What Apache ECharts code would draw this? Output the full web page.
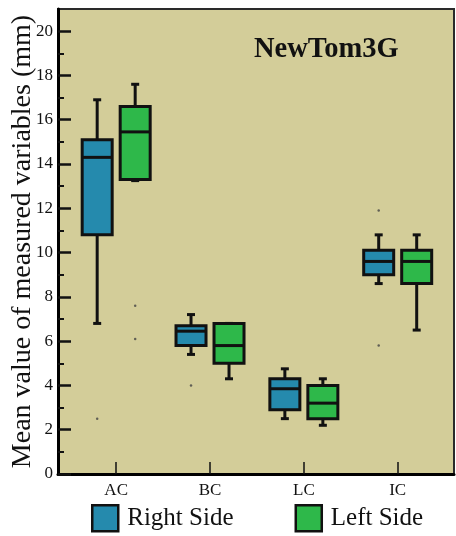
<!DOCTYPE html>
<html>
<head>
<meta charset="utf-8">
<title>NewTom3G</title>
<script src="https://cdn.jsdelivr.net/npm/echarts@6/dist/echarts.min.js"></script>
<style>
html, body { margin: 0; padding: 0; background: #fff; }
#chart { width: 456px; height: 536px; }
</style>
</head>
<body>
<div id="chart"></div>
<script>
var categories = ['AC', 'BC', 'LC', 'IC'];
// each row: [min, Q1, median, Q3, max]
var rightSide = [
	[6.8, 10.8, 14.3, 15.1, 16.9],
	[5.4, 5.8, 6.45, 6.7, 7.2],
	[2.5, 2.9, 3.85, 4.3, 4.75],
	[8.6, 9.0, 9.6, 10.1, 10.8]
];
var leftSide = [
	[13.25, 13.3, 15.45, 16.6, 17.6],
	[4.3, 5.0, 5.8, 6.8, 6.8],
	[2.2, 2.5, 3.2, 4.0, 4.3],
	[6.5, 8.6, 9.6, 10.1, 10.8]
];
// [category index, value]
var rightOutliers = [[0, 2.5], [1, 4.0], [3, 11.9], [3, 5.8]];
var leftOutliers = [[0, 7.6], [0, 6.1]];
var majorTicks = [0, 2, 4, 6, 8, 10, 12, 14, 16, 18, 20];
var minorTicks = [1, 3, 5, 7, 9, 11, 13, 15, 17, 19];

var serif = "'Liberation Serif', 'Times New Roman', serif";
var blue = '#258AAD';
var green = '#2EB84A';
var ink = '#111';
var boxHalf = 15, capHalf = 4, shift = 19;

var toRows = function(list){
	return list.map(function(d, i){ return [i + 1].concat(d); });
};
var toPoints = function(list){
	return list.map(function(d){ return [d[0] + 1, d[1]]; });
};

var boxRenderer = function(dx, fill){
	return function(params, api){
		var x = api.value(0);
		var p = [1, 2, 3, 4, 5].map(function(i){ return api.coord([x, api.value(i)]); });
		var cx = p[0][0] + dx;
		var line = function(x1, y1, x2, y2){
			return {type: 'line', shape: {x1: x1, y1: y1, x2: x2, y2: y2}, style: {stroke: ink, lineWidth: 3}};
		};
		return {
			type: 'group',
			children: [
				line(cx, p[4][1], cx, p[3][1]),
				line(cx, p[0][1], cx, p[1][1]),
				line(cx - capHalf, p[4][1], cx + capHalf, p[4][1]),
				line(cx - capHalf, p[0][1], cx + capHalf, p[0][1]),
				{
					type: 'rect',
					shape: {x: cx - boxHalf, y: p[3][1], width: boxHalf * 2, height: p[1][1] - p[3][1]},
					style: {fill: fill, stroke: ink, lineWidth: 3}
				},
				line(cx - boxHalf, p[2][1], cx + boxHalf, p[2][1])
			]
		};
	};
};

var chart = echarts.init(document.getElementById('chart'));
chart.setOption({
	backgroundColor: '#fff',
	animation: false,
	title: {
		text: 'NewTom3G',
		left: 249,
		top: 30,
		textStyle: {fontFamily: serif, fontSize: 28.5, fontWeight: 'bold', color: ink}
	},
	legend: {
		left: 91,
		top: 504,
		padding: 0,
		itemWidth: 26,
		itemHeight: 26,
		itemGap: 61,
		icon: 'rect',
		textStyle: {fontFamily: serif, fontSize: 25, color: ink, padding: [0, 0, 0, 4]},
		data: [
			{name: 'Right Side', itemStyle: {color: blue, borderColor: ink, borderWidth: 2.5}},
			{name: 'Left Side', itemStyle: {color: green, borderColor: ink, borderWidth: 2.5}}
		]
	},
	grid: {
		left: 58,
		right: 2,
		top: 9,
		bottom: 62,
		outerBoundsMode: 'none',
		containLabel: false,
		show: true,
		backgroundColor: '#D3CD99',
		borderColor: '#2a2a2a',
		borderWidth: 2
	},
	xAxis: {
		type: 'value',
		min: 0.38,
		max: 4.6,
		splitLine: {show: false},
		axisLine: {show: true, lineStyle: {color: '#000', width: 3}},
		axisTick: {show: true, inside: true, length: 12, customValues: [1, 2, 3, 4], lineStyle: {color: ink, width: 1.5}},
		axisLabel: {
			customValues: [1, 2, 3, 4],
			margin: 8,
			fontFamily: serif,
			fontSize: 17,
			color: ink,
			formatter: function(v){ return categories[v - 1]; }
		}
	},
	yAxis: [
		{
			type: 'value',
			min: 0,
			max: 21,
			name: 'Mean value of measured variables (mm)',
			nameLocation: 'middle',
			nameGap: 21,
			nameMoveOverlap: false,
			nameTextStyle: {fontFamily: serif, fontSize: 28, color: ink},
			splitLine: {show: false},
			axisLine: {show: true, lineStyle: {color: '#000', width: 3}},
			axisTick: {show: true, inside: true, length: 13, customValues: majorTicks, lineStyle: {color: ink, width: 2.5}},
			axisLabel: {customValues: majorTicks, margin: 5, fontFamily: serif, fontSize: 17, color: ink}
		},
		{
			type: 'value',
			min: 0,
			max: 21,
			position: 'left',
			splitLine: {show: false},
			axisLine: {show: false},
			axisTick: {show: true, inside: true, length: 6, customValues: minorTicks, lineStyle: {color: ink, width: 2}},
			axisLabel: {show: false}
		}
	],
	series: [
		{
			name: 'Right Side',
			type: 'custom',
			renderItem: boxRenderer(-shift, blue),
			itemStyle: {color: blue},
			encode: {x: 0, y: [1, 2, 3, 4, 5]},
			data: toRows(rightSide),
			z: 3
		},
		{
			name: 'Left Side',
			type: 'custom',
			renderItem: boxRenderer(shift, green),
			itemStyle: {color: green},
			encode: {x: 0, y: [1, 2, 3, 4, 5]},
			data: toRows(leftSide),
			z: 3
		},
		{
			type: 'scatter',
			symbolSize: 2.5,
			symbolOffset: [-shift, 0],
			itemStyle: {color: '#444'},
			data: toPoints(rightOutliers),
			z: 4
		},
		{
			type: 'scatter',
			symbolSize: 2.5,
			symbolOffset: [shift, 0],
			itemStyle: {color: '#444'},
			data: toPoints(leftOutliers),
			z: 4
		}
	]
});
</script>
</body>
</html>
